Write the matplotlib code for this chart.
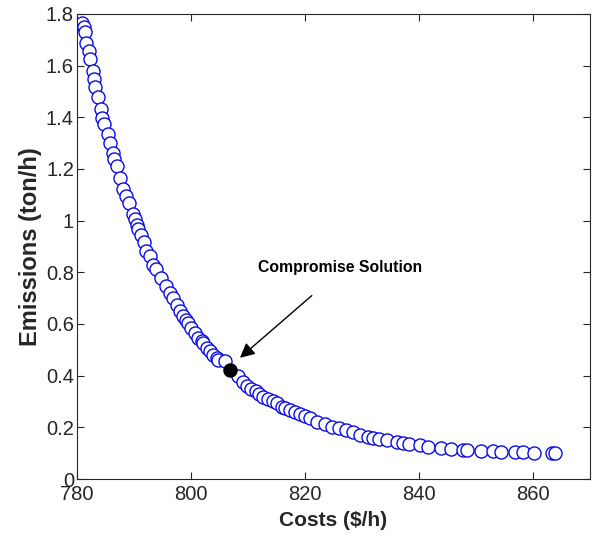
import matplotlib.pyplot as plt

plt.rcParams['font.family'] = ['Liberation Sans', 'DejaVu Sans']

# Pareto front
costs = [781.0, 781.2, 781.4, 781.7, 782.1, 782.3, 782.8, 783.0, 783.2, 783.7,
         784.2, 784.5, 784.8, 785.5, 785.8, 786.3, 786.5, 787.0, 787.5, 788.1,
         788.7, 789.2, 789.8, 790.2, 790.5, 790.8, 791.2, 791.8, 792.2, 792.8,
         793.4, 793.9, 794.7, 795.6, 796.3, 796.9, 797.5, 798.1, 798.6, 799.2,
         799.5, 800.1, 800.7, 801.3, 801.9, 802.2, 802.8, 803.3, 803.9, 804.5,
         804.8, 806.0, 808.3, 809.2, 809.8, 810.6, 811.4, 812.0, 812.7, 813.6,
         814.4, 815.1, 815.9, 816.5, 817.4, 818.2, 819.1, 820.0, 820.9, 822.1,
         823.5, 824.7, 826.0, 827.2, 828.5, 829.6, 831.1, 832.0, 832.9, 834.3,
         836.1, 837.2, 838.3, 840.1, 841.5, 843.8, 845.6, 847.7, 848.4, 850.8,
         852.9, 854.3, 856.8, 858.3, 860.1, 863.3, 863.9]
emissions = [1.765, 1.748, 1.729, 1.686, 1.657, 1.625, 1.580, 1.548, 1.519, 1.477,
             1.431, 1.399, 1.373, 1.334, 1.302, 1.263, 1.237, 1.211, 1.164, 1.124,
             1.095, 1.067, 1.024, 1.005, 0.985, 0.966, 0.946, 0.917, 0.882, 0.862,
             0.830, 0.811, 0.779, 0.746, 0.720, 0.701, 0.675, 0.649, 0.632, 0.617,
             0.604, 0.585, 0.565, 0.546, 0.533, 0.526, 0.507, 0.494, 0.481, 0.468,
             0.462, 0.455, 0.397, 0.377, 0.361, 0.348, 0.339, 0.330, 0.319, 0.309,
             0.300, 0.294, 0.280, 0.274, 0.268, 0.261, 0.252, 0.242, 0.235, 0.222,
             0.213, 0.203, 0.197, 0.190, 0.180, 0.171, 0.164, 0.158, 0.154, 0.151,
             0.145, 0.141, 0.136, 0.131, 0.125, 0.120, 0.116, 0.112, 0.112, 0.110,
             0.107, 0.106, 0.104, 0.104, 0.102, 0.101, 0.101]

best_cost = 806.8
best_emission = 0.423

x_ticks = [780, 800, 820, 840, 860]
y_ticks = [0, 0.2, 0.4, 0.6, 0.8, 1, 1.2, 1.4, 1.6, 1.8]
y_tick_labels = ['0', '0.2', '0.4', '0.6', '0.8', '1', '1.2', '1.4', '1.6', '1.8']

dark = '#262626'

fig = plt.figure(figsize=(5.95, 5.37), dpi=100)
ax = fig.add_axes([0.129, 0.108, 0.863, 0.866])

ax.plot(costs, emissions, 'o', mfc='white', mec='#0a0ae6', ms=9.4, mew=1.0)
ax.plot(best_cost, best_emission, 'o', mfc='black', mec='black', ms=9.4)

ax.annotate('', xy=(808.6, 0.469), xytext=(821.2, 0.71),
            arrowprops=dict(arrowstyle='-|>', color='black', lw=1.0,
                            mutation_scale=22, shrinkA=0, shrinkB=0))
ax.text(826.1, 0.818, 'Compromise Solution', ha='center', va='center',
        fontsize=11.3, fontweight='bold', color='black')

ax.set_xlim(780, 870)
ax.set_ylim(0, 1.8)
ax.set_xticks(x_ticks)
ax.set_yticks(y_ticks)
ax.set_yticklabels(y_tick_labels)
ax.tick_params(direction='in', length=5, width=0.8, colors=dark,
               labelsize=14.5, top=True, right=True)
ax.tick_params(axis='x', pad=4)
ax.tick_params(axis='y', pad=2)
for s in ax.spines.values():
    s.set_color(dark)
    s.set_linewidth(0.8)

ax.set_xlabel('Costs ($/h)', fontsize=15, fontweight='bold', color=dark, labelpad=5)
ax.set_ylabel('Emissions (ton/h)', fontsize=17, fontweight='bold', color=dark, labelpad=3)

plt.savefig('out.png', dpi=100)
